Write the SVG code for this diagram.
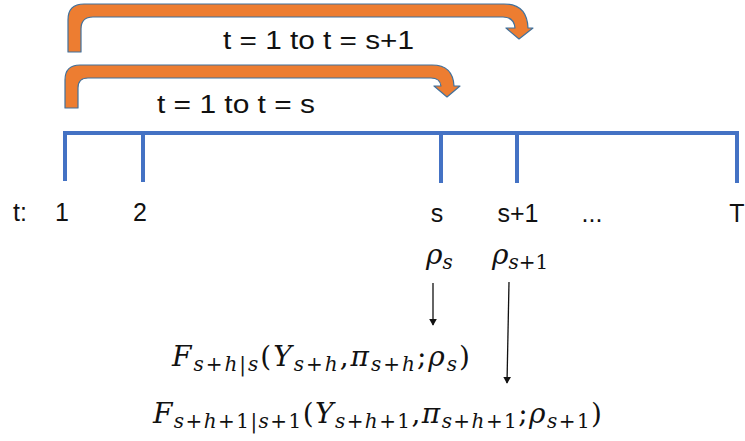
<svg xmlns="http://www.w3.org/2000/svg" width="745" height="441" viewBox="0 0 745 441">
<defs>
<style>
.lbl{font-family:"Liberation Sans",Arial,sans-serif;font-size:25px;fill:#111}
.math{font-family:"DejaVu Serif","Liberation Serif",serif;font-style:italic;font-size:28px;fill:#111}
.sub{font-size:20px}
.up{font-style:normal}
.bent{fill:#ED7D31;stroke:#41719C;stroke-width:1.2;stroke-linejoin:round}
.tl{fill:none;stroke:#4472C4;stroke-width:4}
.conn{stroke:#111;stroke-width:1.3;fill:none}
</style>
<marker id="ah" viewBox="0 0 10 10" refX="9" refY="5" markerWidth="7" markerHeight="8" markerUnits="userSpaceOnUse" orient="auto" preserveAspectRatio="none">
<path d="M0,0 L10,5 L0,10 Z" fill="#111"/>
</marker>
</defs>
<rect width="745" height="441" fill="#fff"/>

<g id="arrow-s1">
<path class="bent" d="M68,52 L68,20 Q68,4 84,4 L504,4 Q527,4 528,28 L533,28 L519,39 L506,28 L515,28 Q514,17 503,17 L93,17 Q81,17 81,29 L81,52 Z"/>
<text class="lbl" x="223" y="49" font-size="26" textLength="191" lengthAdjust="spacingAndGlyphs">t = 1 to t = s+1</text>
</g>
<g id="arrow-s">
<path class="bent" d="M65,108 L65,80 Q65,65 80,65 L432,65 Q453,65 454,86 L460,86 L447,97 L434,86 L441,86 Q440,78 431,78 L88,78 Q78,78 78,88 L78,108 Z"/>
<text class="lbl" x="157" y="113" font-size="26" textLength="158" lengthAdjust="spacingAndGlyphs">t = 1 to t = s</text>
</g>

<g id="timeline">
<path class="tl" d="M65,181 V133 H737 V183 M143,133 V182 M441,133 V183 M517,133 V183"/>
<text class="lbl" x="13" y="221">t:</text>
<text class="lbl" x="55" y="221">1</text>
<text class="lbl" x="133" y="221">2</text>
<text class="lbl" x="437" y="222" text-anchor="middle">s</text>
<text class="lbl" x="518" y="222" text-anchor="middle">s+1</text>
<text class="lbl" x="592" y="222" text-anchor="middle">...</text>
<text class="lbl" x="737" y="222" text-anchor="middle">T</text>
</g>

<g id="rho-s">
<text class="math" x="426" y="264">ρ<tspan class="sub" dy="5">s</tspan></text>
</g>
<g id="rho-s1">
<text class="math" x="492" y="264">ρ<tspan class="sub" dy="5">s<tspan class="up">+1</tspan></tspan></text>
</g>

<g id="forecast-s">
<text class="math" x="172" y="366" textLength="298" lengthAdjust="spacing">F<tspan class="sub" dy="5">s<tspan class="up">+</tspan>h<tspan class="up">|</tspan>s</tspan><tspan class="up" dy="-5">(</tspan>Y<tspan class="sub" dy="5">s<tspan class="up">+</tspan>h</tspan><tspan class="up" dy="-5">,</tspan>π<tspan class="sub" dy="5">s<tspan class="up">+</tspan>h</tspan><tspan class="up" dy="-5">;</tspan>ρ<tspan class="sub" dy="5">s</tspan><tspan class="up" dy="-5">)</tspan></text>
</g>
<g id="forecast-s1">
<text class="math" x="153" y="423" textLength="449" lengthAdjust="spacing">F<tspan class="sub" dy="5">s<tspan class="up">+</tspan>h<tspan class="up">+1|</tspan>s<tspan class="up">+1</tspan></tspan><tspan class="up" dy="-5">(</tspan>Y<tspan class="sub" dy="5">s<tspan class="up">+</tspan>h<tspan class="up">+1</tspan></tspan><tspan class="up" dy="-5">,</tspan>π<tspan class="sub" dy="5">s<tspan class="up">+</tspan>h<tspan class="up">+1</tspan></tspan><tspan class="up" dy="-5">;</tspan>ρ<tspan class="sub" dy="5">s<tspan class="up">+1</tspan></tspan><tspan class="up" dy="-5">)</tspan></text>
</g>

<g id="connectors">
<line class="conn" x1="433" y1="283" x2="433" y2="325" marker-end="url(#ah)"/>
<line class="conn" x1="509" y1="282" x2="507" y2="383" marker-end="url(#ah)"/>
</g>
</svg>
